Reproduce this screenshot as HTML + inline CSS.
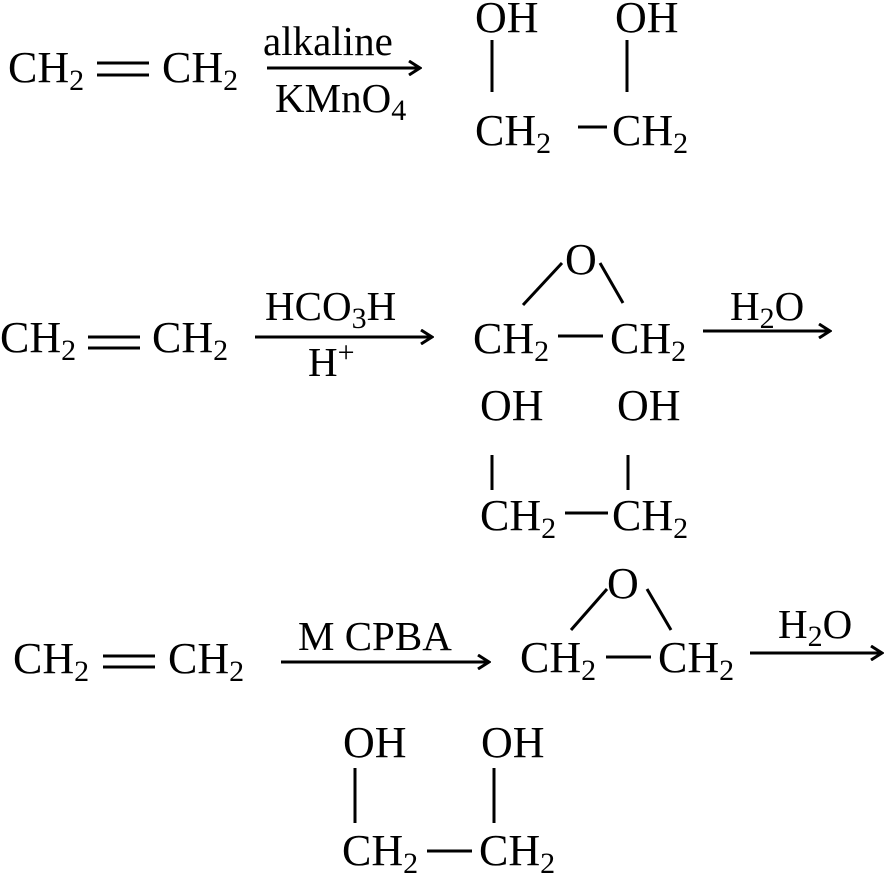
<!DOCTYPE html>
<html><head><meta charset="utf-8"><style>
html,body{margin:0;padding:0;background:#fff;}
svg{display:block;}
text{font-family:"Liberation Serif",serif;font-size:44px;fill:#000;}
.s{font-size:30px;}
.r{font-size:41px;}
line{stroke:#000;stroke-width:3;}
</style></head><body>
<svg width="884" height="877" viewBox="0 0 884 877">
<defs><marker id="a" markerWidth="14" markerHeight="16" refX="12" refY="8" orient="auto" markerUnits="userSpaceOnUse"><path d="M1,1 L12,8 L1,15" fill="none" stroke="#000" stroke-width="3"/></marker></defs>

<!-- Row 1 -->
<text x="8" y="82">CH<tspan class="s" dy="8">2</tspan></text>
<line x1="97" y1="63" x2="149" y2="63"/><line x1="97" y1="75" x2="149" y2="75"/>
<text x="162" y="82">CH<tspan class="s" dy="8">2</tspan></text>
<line x1="267" y1="68" x2="420" y2="68" marker-end="url(#a)"/>
<text class="r" x="263" y="55">alkaline</text>
<text class="r" x="275" y="112">KMnO<tspan class="s" dy="8">4</tspan></text>
<text x="475" y="32">OH</text><text x="615" y="32">OH</text>
<line x1="492" y1="40" x2="492" y2="92"/><line x1="627" y1="40" x2="627" y2="92"/>
<text x="475" y="145">CH<tspan class="s" dy="8">2</tspan></text>
<line x1="578" y1="127" x2="607" y2="127"/>
<text x="612" y="145">CH<tspan class="s" dy="8">2</tspan></text>

<!-- Row 2 -->
<text x="0" y="352">CH<tspan class="s" dy="8">2</tspan></text>
<line x1="88" y1="337" x2="140" y2="337"/><line x1="88" y1="348" x2="140" y2="348"/>
<text x="152" y="352">CH<tspan class="s" dy="8">2</tspan></text>
<line x1="255" y1="337" x2="432" y2="337" marker-end="url(#a)"/>
<text class="r" x="265" y="320">HCO<tspan class="s" dy="8">3</tspan><tspan dy="-8">H</tspan></text>
<text class="r" x="308" y="376">H<tspan class="s" dy="-14">+</tspan></text>
<text x="565" y="274">O</text>
<line x1="523" y1="305" x2="562" y2="263"/><line x1="600" y1="263" x2="623" y2="303"/>
<text x="473" y="353">CH<tspan class="s" dy="8">2</tspan></text>
<line x1="558" y1="336" x2="603" y2="336"/>
<text x="610" y="353">CH<tspan class="s" dy="8">2</tspan></text>
<line x1="703" y1="331" x2="830" y2="331" marker-end="url(#a)"/>
<text class="r" x="730" y="320">H<tspan class="s" dy="8">2</tspan><tspan dy="-8">O</tspan></text>
<text x="480" y="420">OH</text><text x="617" y="420">OH</text>
<line x1="492" y1="455" x2="492" y2="490"/><line x1="628" y1="455" x2="628" y2="490"/>
<text x="480" y="530">CH<tspan class="s" dy="8">2</tspan></text>
<line x1="565" y1="513" x2="608" y2="513"/>
<text x="612" y="530">CH<tspan class="s" dy="8">2</tspan></text>

<!-- Row 3 -->
<text x="13" y="673">CH<tspan class="s" dy="8">2</tspan></text>
<line x1="103" y1="656" x2="155" y2="656"/><line x1="103" y1="667" x2="155" y2="667"/>
<text x="168" y="673">CH<tspan class="s" dy="8">2</tspan></text>
<line x1="281" y1="662" x2="489" y2="662" marker-end="url(#a)"/>
<text class="r" x="298" y="650">M CPBA</text>
<text x="607" y="598">O</text>
<line x1="571" y1="630" x2="607" y2="589"/><line x1="647" y1="589" x2="671" y2="630"/>
<text x="520" y="672">CH<tspan class="s" dy="8">2</tspan></text>
<line x1="606" y1="657" x2="651" y2="657"/>
<text x="658" y="672">CH<tspan class="s" dy="8">2</tspan></text>
<line x1="750" y1="653" x2="882" y2="653" marker-end="url(#a)"/>
<text class="r" x="778" y="638">H<tspan class="s" dy="8">2</tspan><tspan dy="-8">O</tspan></text>
<text x="343" y="757">OH</text><text x="481" y="757">OH</text>
<line x1="355" y1="768" x2="355" y2="823"/><line x1="494" y1="768" x2="494" y2="823"/>
<text x="342" y="865">CH<tspan class="s" dy="8">2</tspan></text>
<line x1="427" y1="851" x2="472" y2="851"/>
<text x="479" y="865">CH<tspan class="s" dy="8">2</tspan></text>
</svg>
</body></html>
